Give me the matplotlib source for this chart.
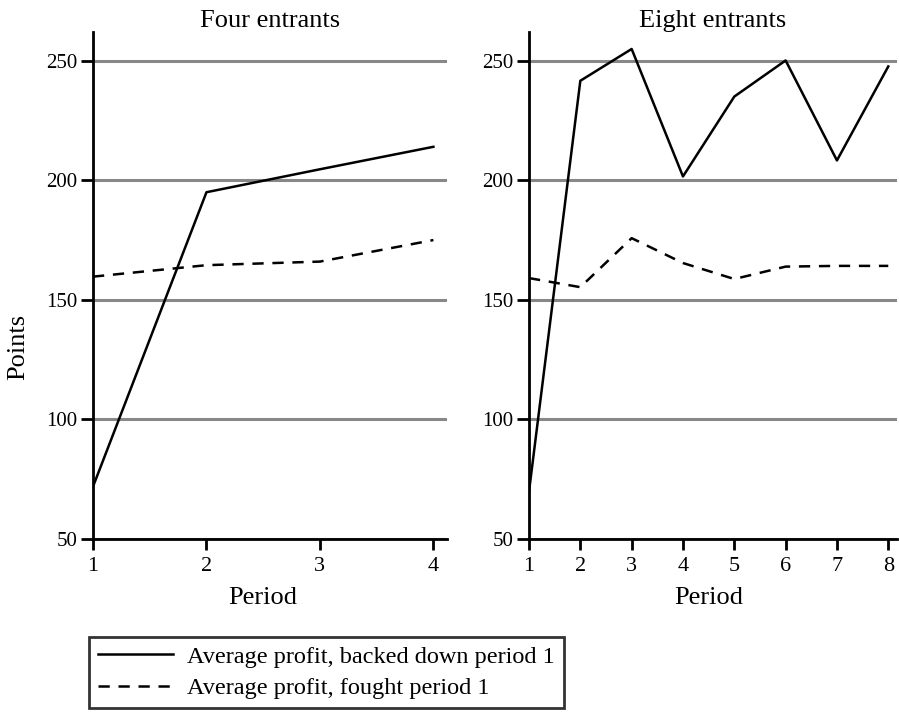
import matplotlib
matplotlib.use("Agg")
import matplotlib.pyplot as plt
from matplotlib.lines import Line2D

plt.rcParams['font.family'] = ['Liberation Serif', 'DejaVu Serif']

periods_four = [1, 2, 3, 4]
backed_four = [71.9, 195.0, 204.6, 214.0]
fought_four = [159.7, 164.5, 166.0, 175.0]

periods_eight = [1, 2, 3, 4, 5, 6, 7, 8]
backed_eight = [69.8, 241.6, 254.9, 201.6, 235.0, 250.1, 208.3, 247.6]
fought_eight = [159.1, 155.3, 175.8, 165.4, 158.7, 163.9, 164.2, 164.2]

yticks = [50, 100, 150, 200, 250]
legend_labels = ['Average profit, backed down period 1', 'Average profit, fought period 1']

W, H = 899, 715
fig = plt.figure(figsize=(W / 100, H / 100), dpi=100)


def px_axes(x0, x1, y0, y1):
    return fig.add_axes([x0 / W, 1 - y1 / H, (x1 - x0) / W, (y1 - y0) / H])


ax1 = px_axes(93, 447, 32, 539)
ax2 = px_axes(529, 897, 32, 539)

dash = (0, (4.5, 3.5))
panels = [
    (ax1, periods_four, backed_four, fought_four, 'Four entrants', 4.12),
    (ax2, periods_eight, backed_eight, fought_eight, 'Eight entrants', 8.17),
]
for ax, xs, solid, dashed, title, xmax in panels:
    for y in yticks:
        ax.axhline(y, color='#888888', lw=2.2, zorder=1)
    ax.plot(xs, solid, color='black', lw=1.8, zorder=3)
    ax.plot(xs, dashed, color='black', lw=1.8, linestyle=dash, zorder=3)
    ax.set_xlim(1, xmax)
    ax.set_ylim(50, 262)
    ax.set_xticks(xs)
    ax.set_yticks(yticks)
    for s in ['top', 'right']:
        ax.spines[s].set_visible(False)
    for s in ['left', 'bottom']:
        ax.spines[s].set_linewidth(2)
        ax.spines[s].set_zorder(4)
    ax.tick_params(axis='x', direction='out', length=8, width=2, pad=5, labelsize=16)
    ax.tick_params(axis='y', direction='out', length=9, width=2, pad=2, labelsize=15)
    ax.set_title(title, fontsize=19, pad=3)
    ax.set_xlabel('Period', fontsize=19)
    ax.xaxis.set_label_coords(((1 + xs[-1]) / 2 - 1) / (xmax - 1), -0.095)
    ax.xaxis.label.set_va('top')

fig.text(18 / W, 1 - 347 / H, 'Points', rotation=90, ha='center', va='center', fontsize=19)

handles = [Line2D([], [], color='black', lw=1.8),
           Line2D([], [], color='black', lw=1.8, linestyle=dash)]
leg = fig.legend(handles, legend_labels, loc='upper left',
                 bbox_to_anchor=(89 / W, 1 - 637 / H), fontsize=17.5,
                 frameon=True, fancybox=False, handlelength=3.1, handletextpad=0.6,
                 labelspacing=0.4, borderpad=0.35, borderaxespad=0)
leg.get_frame().set_edgecolor('black')
leg.get_frame().set_linewidth(2)

fig.savefig('out.png', dpi=100)
